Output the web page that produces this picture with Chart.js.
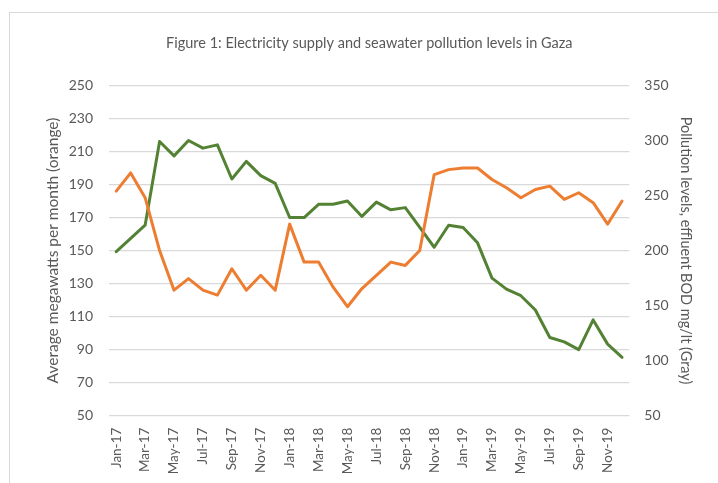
<!DOCTYPE html>
<html>
<head>
<meta charset="utf-8">
<script src="https://cdn.jsdelivr.net/npm/chart.js@4"></script>
<style>
  html, body { margin: 0; padding: 0; background: #ffffff; }
  #wrap { position: relative; width: 718px; height: 483px; overflow: hidden; }
  #frame { position: absolute; left: 9px; top: 12px; width: 740px; height: 500px; border: 1px solid #d9d9d9; box-sizing: border-box; }
  canvas { position: absolute; left: 0; top: 0; }
</style>
</head>
<body>
<div id="wrap">
  <div id="frame"></div>
  <canvas id="c" width="718" height="483"></canvas>
</div>
<script>
const months = [
  "Jan-17","Feb-17","Mar-17","Apr-17","May-17","Jun-17","Jul-17","Aug-17","Sep-17","Oct-17","Nov-17","Dec-17",
  "Jan-18","Feb-18","Mar-18","Apr-18","May-18","Jun-18","Jul-18","Aug-18","Sep-18","Oct-18","Nov-18","Dec-18",
  "Jan-19","Feb-19","Mar-19","Apr-19","May-19","Jun-19","Jul-19","Aug-19","Sep-19","Oct-19","Nov-19","Dec-19"
];
const megawatts = [
  186, 197, 182, 150, 126, 133, 126, 123, 139, 126, 135, 126,
  166, 143, 143, 128, 116, 127, 135, 143, 141, 150, 196, 199,
  200, 200, 193, 188, 182, 187, 189, 181, 185, 179, 166, 180
];
const pollution = [
  199, 211, 223, 299, 286, 300, 293, 296, 265, 281, 268, 261,
  230, 230, 242, 242, 245, 231, 244, 237, 239, 221, 203, 223,
  221, 207, 175, 165, 159, 146, 121, 117, 110, 137, 115, 103
];
const titleText = "Figure 1: Electricity supply and seawater pollution levels in Gaza";
const leftAxisTitle = "Average megawatts per month (orange)";
const rightAxisTitle = "Pollution levels, effluent BOD mg/lt (Gray)";

const textColor = "#595959";
const gridColor = "#d9d9d9";
const fontFamily = "Lato, 'Open Sans', sans-serif";

new Chart(document.getElementById("c"), {
  type: "line",
  data: {
    labels: months,
    datasets: [
      {
        label: "Megawatts",
        data: megawatts,
        yAxisID: "y",
        borderColor: "#ED7D31",
        backgroundColor: "#ED7D31",
        borderWidth: 3,
        pointRadius: 0,
        tension: 0,
        borderJoinStyle: "round",
        borderCapStyle: "round"
      },
      {
        label: "Pollution",
        data: pollution,
        yAxisID: "y1",
        borderColor: "#548235",
        backgroundColor: "#548235",
        borderWidth: 3,
        pointRadius: 0,
        tension: 0,
        borderJoinStyle: "round",
        borderCapStyle: "round"
      }
    ]
  },
  options: {
    responsive: false,
    animation: false,
    layout: { padding: { left: 41, right: 20.5, top: 0, bottom: 0 } },
    plugins: {
      legend: { display: false },
      tooltip: { enabled: false },
      title: {
        display: true,
        text: titleText,
        color: textColor,
        font: { family: fontFamily, size: 14.5, weight: "normal" },
        padding: { top: 35, bottom: 33 }
      }
    },
    scales: {
      x: {
        offset: true,
        grid: { display: false, drawTicks: false },
        border: { display: false },
        ticks: {
          autoSkip: false,
          maxRotation: 90,
          minRotation: 90,
          padding: 12,
          color: textColor,
          font: { family: fontFamily, size: 13.5 },
          callback: function (v, i) { return i % 2 === 0 ? months[i] : ""; }
        },
        afterFit: function (s) { s.height = 67.3; }
      },
      y: {
        position: "left",
        min: 50,
        max: 250,
        ticks: { stepSize: 20, padding: 16, color: textColor, font: { family: fontFamily, size: 14 } },
        grid: { color: gridColor, lineWidth: 1.3, drawTicks: false },
        border: { display: false },
        title: {
          display: true,
          text: leftAxisTitle,
          color: textColor,
          font: { family: fontFamily, size: 15.5 },
          padding: { top: 3, bottom: 4 }
        },
        afterFit: function (s) { s.width = 68; }
      },
      y1: {
        position: "right",
        min: 50,
        max: 350,
        ticks: { stepSize: 50, padding: 15, color: textColor, font: { family: fontFamily, size: 14 } },
        grid: { drawOnChartArea: false, drawTicks: false },
        border: { display: false },
        title: {
          display: true,
          text: rightAxisTitle,
          color: textColor,
          font: { family: fontFamily, size: 14.5 },
          padding: { top: 3, bottom: 4 }
        },
        afterFit: function (s) { s.width = 68.2; }
      }
    }
  }
});
</script>
</body>
</html>
